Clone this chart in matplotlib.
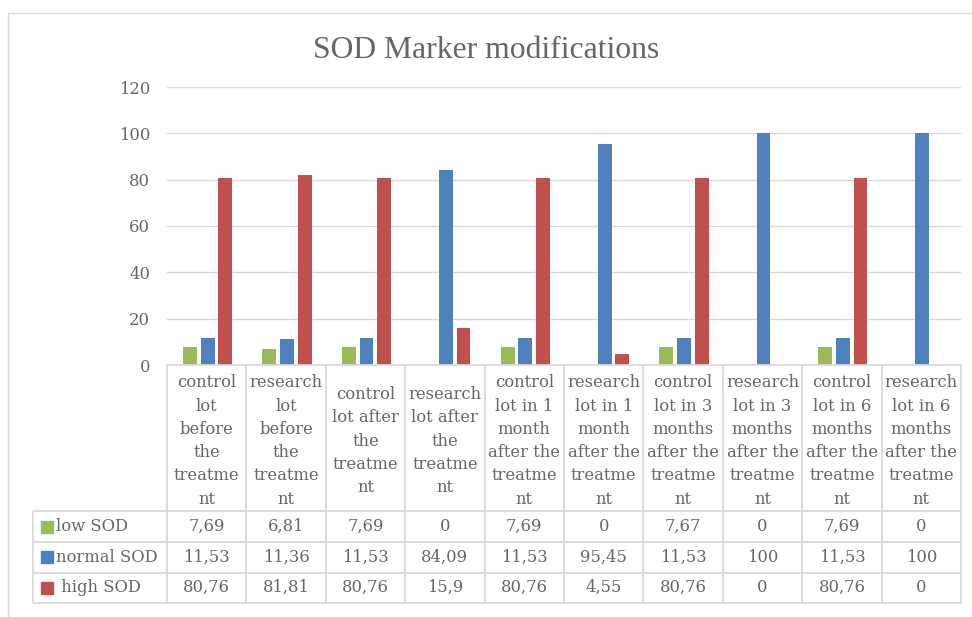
import matplotlib
matplotlib.use("Agg")
import matplotlib.pyplot as plt
from matplotlib.patches import Rectangle
import numpy as np

# ---------------- data ----------------
categories = [
    "control\nlot\nbefore\nthe\ntreatme\nnt",
    "research\nlot\nbefore\nthe\ntreatme\nnt",
    "control\nlot after\nthe\ntreatme\nnt",
    "research\nlot after\nthe\ntreatme\nnt",
    "control\nlot in 1\nmonth\nafter the\ntreatme\nnt",
    "research\nlot in 1\nmonth\nafter the\ntreatme\nnt",
    "control\nlot in 3\nmonths\nafter the\ntreatme\nnt",
    "research\nlot in 3\nmonths\nafter the\ntreatme\nnt",
    "control\nlot in 6\nmonths\nafter the\ntreatme\nnt",
    "research\nlot in 6\nmonths\nafter the\ntreatme\nnt",
]
series_names = ["low SOD", "normal SOD", " high SOD"]
low_sod = [7.69, 6.81, 7.69, 0, 7.69, 0, 7.67, 0, 7.69, 0]
normal_sod = [11.53, 11.36, 11.53, 84.09, 11.53, 95.45, 11.53, 100, 11.53, 100]
high_sod = [80.76, 81.81, 80.76, 15.9, 80.76, 4.55, 80.76, 0, 80.76, 0]
series_values = [low_sod, normal_sod, high_sod]
colors = ["#9BBB59", "#4F81BD", "#C0504D"]
yticks = [0, 20, 40, 60, 80, 100, 120]
title = "SOD Marker modifications"

# ---------------- layout ----------------
W, H = 972, 617
fig = plt.figure(figsize=(W / 100, H / 100), dpi=100)
TXT = "#666666"
GRID = "#D9D9D9"
small_font = "DejaVu Serif"
fs_small = 11.8


def fx(px):
    return px / W


def fy(py):
    return 1 - py / H


# outer chart border
fig.patches.append(Rectangle((fx(8), fy(700)), fx(1100), (700 - 13) / H,
                             transform=fig.transFigure, fill=False,
                             edgecolor=GRID, lw=1.0))

x_left, x_right = 167, 961
y_top, y_zero = 87, 365
ax = fig.add_axes([fx(x_left), fy(y_zero), fx(x_right - x_left), (y_zero - y_top) / H])
n = len(categories)
x = np.arange(n)
offsets = [-0.21, 0.012, 0.234]
bw = 0.175
for vals, off, c in zip(series_values, offsets, colors):
    ax.bar(x + off, vals, width=bw, color=c, zorder=3)

ax.set_xlim(-0.5, n - 0.5)
ax.set_ylim(0, 120)
ax.set_yticks(yticks)
ax.set_yticklabels([str(t) for t in yticks], fontfamily=small_font,
                   fontsize=fs_small, color=TXT)
ax.tick_params(axis="y", length=0, pad=12)
ax.set_xticks([])
ax.grid(axis="y", color=GRID, lw=1.0, zorder=0)
for s in ax.spines.values():
    s.set_visible(False)
ax.patch.set_alpha(0)

ax.text(0.5, fy(58.5), title, transform=fig.transFigure, ha="center",
        va="baseline", fontfamily="Liberation Serif", fontsize=22.8, color=TXT)

# ---------------- data table ----------------
px_per_unit = (x_right - x_left) / n
tab_left_px = 33
tab_bottom_px = 603
x_lab = -0.5 - (x_left - tab_left_px) / px_per_unit
axt = fig.add_axes([fx(tab_left_px), fy(tab_bottom_px),
                    fx(x_right - tab_left_px), (tab_bottom_px - y_zero) / H])
axt.set_xlim(x_lab, n - 0.5)
axt.set_ylim(tab_bottom_px, y_zero)
axt.axis("off")

row_edges = [511, 542, 572.5, 603]
lkw = dict(color=GRID, lw=1.3, solid_capstyle="butt", clip_on=False)
axt.plot([-0.5, n - 0.5], [y_zero, y_zero], **lkw)
for ry in row_edges:
    axt.plot([x_lab, n - 0.5], [ry, ry], **lkw)
axt.plot([x_lab, x_lab], [row_edges[0], row_edges[-1]], **lkw)
for b in np.arange(n + 1) - 0.5:
    axt.plot([b, b], [y_zero, row_edges[-1]], **lkw)

# header labels (wrapped lines, centered)
line_h = 23.3
hdr_center = 441
for i, lab in enumerate(categories):
    lines = lab.split("\n")
    y0 = hdr_center - line_h * (len(lines) - 1) / 2
    for k, ln in enumerate(lines):
        axt.text(i, y0 + k * line_h, ln, ha="center", va="center",
                 fontfamily=small_font, fontsize=fs_small, color=TXT)


def fmt(v):
    return f"{v:g}".replace(".", ",")


sq_w = 12 / px_per_unit
for r, (name, vals, c) in enumerate(zip(series_names, series_values, colors)):
    yc = (row_edges[r] + row_edges[r + 1]) / 2
    axt.add_patch(Rectangle((x_lab + 8 / px_per_unit, yc - 6), sq_w, 12,
                            color=c, clip_on=False))
    axt.text(x_lab + 23 / px_per_unit, yc, name, ha="left", va="center",
             fontfamily=small_font, fontsize=fs_small, color=TXT)
    for i, v in enumerate(vals):
        axt.text(i, yc, fmt(v), ha="center", va="center",
                 fontfamily=small_font, fontsize=fs_small, color=TXT)

fig.savefig("out.png", dpi=100)
